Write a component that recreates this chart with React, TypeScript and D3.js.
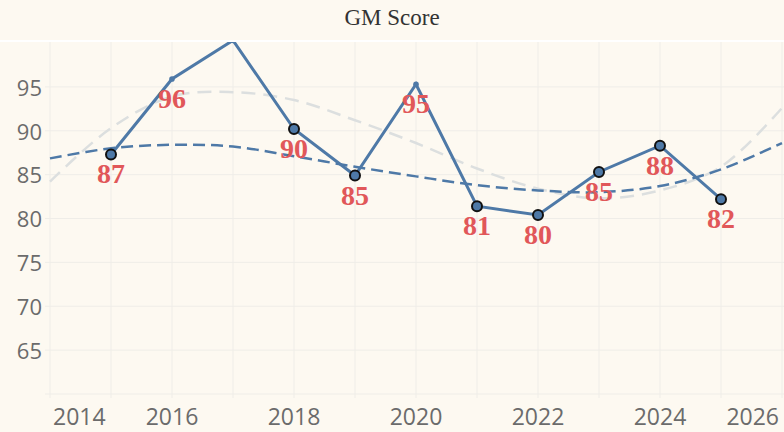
import * as d3 from "d3";

const years = [2015, 2016, 2017, 2018, 2019, 2020, 2021, 2022, 2023, 2024, 2025];
const scores = [87.3, 95.9, 100.3, 90.2, 84.9, 95.3, 81.4, 80.4, 85.3, 88.3, 82.2];
// label shown under each point ("" = no label)
const scoreLabels = ["87", "96", "", "90", "85", "95", "81", "80", "85", "88", "82"];
// points drawn as small dots instead of outlined circles
const smallDotYears = [2016, 2017, 2020];

// trend lines, one value per year
const trendYears = [2014, 2015, 2016, 2017, 2018, 2019, 2020, 2021, 2022, 2023, 2024, 2025, 2026];
const trendDark = [86.85, 88.0, 88.4, 88.2, 87.1, 85.9, 84.8, 83.8, 83.2, 83.0, 83.7, 85.6, 88.6];
const trendGrey = [84.2, 90.3, 93.9, 94.4, 93.5, 91.2, 88.6, 85.7, 83.4, 82.3, 83.2, 85.9, 92.6];

const yTicks = [65, 70, 75, 80, 85, 90, 95];
const xTicks = [2014, 2016, 2018, 2020, 2022, 2024, 2026];

const WIDTH = 784;
const HEIGHT = 432;
const LEFT = 45;
const TOP = 42;
const BOTTOM = 394;

const BG = "#fdf9f1";
const GRID = "#efede8";
const BLUE = "#4e79a7";
const RED = "#e15759";

export default function App() {
	const x = d3.scaleLinear().domain([2014, 2026]).range([50, 782]);
	const y = d3.scaleLinear().domain([60, 100]).range([BOTTOM, 43]);

	const line = d3
		.line<number>()
		.x((_, i) => x(years[i]))
		.y((d) => y(d));

	const trend = d3
		.line<number>()
		.x((_, i) => x(trendYears[i]))
		.y((d) => y(d))
		.curve(d3.curveCatmullRom);

	const gridYears = d3.range(2014, 2027);

	return (
		<svg
			width={WIDTH}
			height={HEIGHT}
			style={{ position: "absolute", left: 0, top: 0 }}
		>
			<defs>
				<clipPath id="plot">
					<rect x={LEFT} y={TOP} width={WIDTH - LEFT} height={BOTTOM - TOP + 4} />
				</clipPath>
			</defs>
			<rect width={WIDTH} height={HEIGHT} fill={BG} />
			<text
				x={392}
				y={25}
				textAnchor="middle"
				fontFamily="Liberation Serif"
				fontSize={23}
				fill="#333"
			>
				GM Score
			</text>
			<rect x={0} y={40} width={WIDTH} height={2} fill="#ffffff" />

			{/* grid */}
			{gridYears.map((yr) => (
				<line
					key={yr}
					x1={x(yr)}
					x2={x(yr)}
					y1={TOP}
					y2={BOTTOM + 4}
					stroke={GRID}
					strokeWidth={1}
				/>
			))}
			{[60, ...yTicks].map((v) => (
				<line
					key={v}
					x1={LEFT}
					x2={WIDTH}
					y1={y(v)}
					y2={y(v)}
					stroke={GRID}
					strokeWidth={1}
				/>
			))}

			{/* axis labels */}
			{yTicks.map((v) => (
				<text
					key={v}
					x={42}
					y={y(v)}
					dy="0.4em"
					textAnchor="end"
					fontFamily="Open Sans"
					fontSize={22}
					fill="#6b6b6b"
				>
					{v}
				</text>
			))}
			{xTicks.map((yr, i) => {
				const first = i === 0;
				const last = i === xTicks.length - 1;
				return (
					<text
						key={yr}
						x={x(yr) + (first ? 3 : last ? -3 : 0)}
						y={425}
						textAnchor={first ? "start" : last ? "end" : "middle"}
						fontFamily="Open Sans"
						fontSize={23}
						fill="#6b6b6b"
					>
						{yr}
					</text>
				);
			})}

			<g clipPath="url(#plot)">
				<path
					d={trend(trendGrey) ?? ""}
					fill="none"
					stroke="#dcdfdf"
					strokeWidth={2.5}
					strokeDasharray="14 8"
				/>
				<path
					d={trend(trendDark) ?? ""}
					fill="none"
					stroke={BLUE}
					strokeWidth={2.5}
					strokeDasharray="12 6"
				/>
				<path d={line(scores) ?? ""} fill="none" stroke={BLUE} strokeWidth={3} />
				{scores.map((v, i) =>
					smallDotYears.includes(years[i]) ? (
						<circle key={i} cx={x(years[i])} cy={y(v)} r={2.8} fill={BLUE} />
					) : (
						<circle
							key={i}
							cx={x(years[i])}
							cy={y(v)}
							r={5}
							fill={BLUE}
							stroke="#111"
							strokeWidth={2}
						/>
					)
				)}
				{scores.map((v, i) =>
					scoreLabels[i] ? (
						<text
							key={i}
							x={x(years[i])}
							y={y(v) + 29}
							textAnchor="middle"
							fontFamily="Liberation Serif"
							fontWeight="bold"
							fontSize={28}
							fill={RED}
						>
							{scoreLabels[i]}
						</text>
					) : null
				)}
			</g>
		</svg>
	);
}
